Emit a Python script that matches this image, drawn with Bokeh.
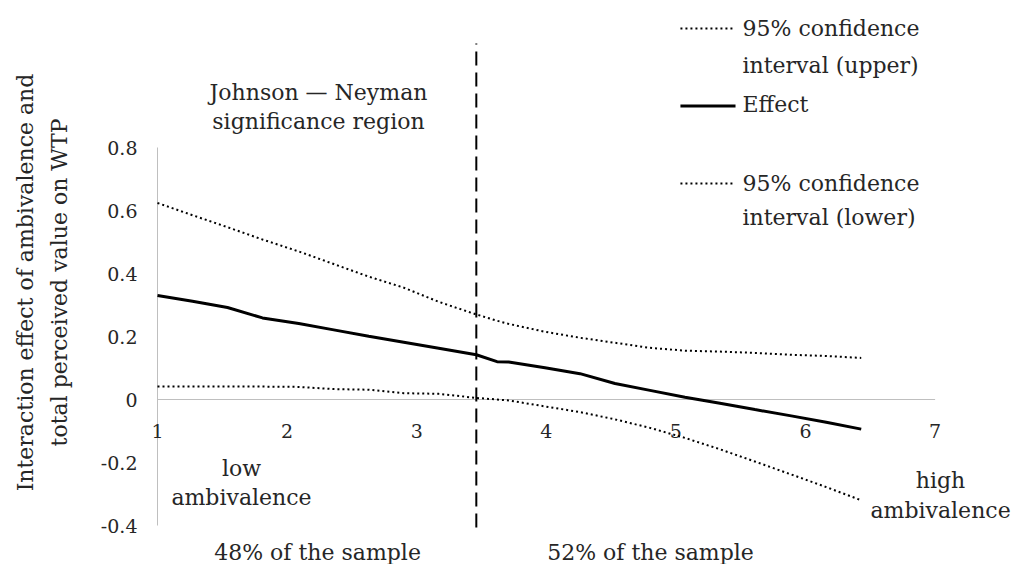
from bokeh.plotting import figure
from bokeh.models import Range1d, LinearAxis, FixedTicker
from bokeh.core.properties import value
from bokeh.embed import file_html
from bokeh.resources import INLINE

# ---------------- data ----------------
moderator = [1.00, 1.27, 1.54, 1.81, 2.09, 2.36, 2.63, 2.90, 3.17, 3.46, 3.62, 3.71,
             3.99, 4.26, 4.53, 4.80, 5.07, 5.34, 5.61, 5.89, 6.16, 6.43]
effect = [0.330, 0.312, 0.292, 0.259, 0.241, 0.221, 0.201, 0.182, 0.163, 0.142, 0.120, 0.119,
          0.101, 0.082, 0.051, 0.029, 0.007, -0.012, -0.032, -0.052, -0.072, -0.094]
ci_upper = [0.624, 0.585, 0.547, 0.508, 0.470, 0.430, 0.390, 0.355, 0.310, 0.270, 0.250, 0.240,
            0.215, 0.196, 0.180, 0.164, 0.155, 0.152, 0.148, 0.142, 0.138, 0.132]
ci_lower = [0.041, 0.041, 0.041, 0.041, 0.040, 0.033, 0.031, 0.020, 0.018, 0.005, 0.000, -0.003,
            -0.022, -0.040, -0.063, -0.090, -0.122, -0.158, -0.197, -0.238, -0.278, -0.320]
jn_point = 3.46

x_ticks = [1, 2, 3, 4, 5, 6, 7]
x_tick_labels = ["1", "2", "3", "4", "5", "6", "7"]
y_ticks = [-0.4, -0.2, 0, 0.2, 0.4, 0.6, 0.8]
y_tick_labels = ["-0.4", "-0.2", "0", "0.2", "0.4", "0.6", "0.8"]

series_names = ["95% confidence\ninterval (upper)", "Effect", "95% confidence\ninterval (lower)"]
y_title = "Interaction effect of ambivalence and\ntotal perceived value on WTP"
region_title = "Johnson \u2014 Neyman\nsignificance region"
low_note = "low\nambivalence"
high_note = "high\nambivalence"
share_notes = ["48% of the sample", "52% of the sample"]

# ---------------- style ----------------
FONT = value("DejaVu Serif")
TXT = "#262626"
AXIS_GRAY = "#bfbfbf"
PX_X = 129.6     # pixels per x unit
PX_Y = 315.0     # pixels per y unit
W, H = 1025, 564
AXIS_PX = 157    # where x = 1 sits
LEFT = 148       # frame starts a little left of the y axis
ZERO_FROM_TOP = 399

x_start = 1 - (AXIS_PX - LEFT) / PX_X
p = figure(width=W, height=H,
           x_range=Range1d(x_start, x_start + (W - LEFT) / PX_X),
           y_range=Range1d(-(H - ZERO_FROM_TOP) / PX_Y, ZERO_FROM_TOP / PX_Y),
           x_axis_type=None, y_axis_type=None,
           output_backend="svg", toolbar_location=None,
           min_border_left=LEFT, min_border_right=0, min_border_top=0, min_border_bottom=0)
p.outline_line_color = None
p.background_fill_color = "white"
p.border_fill_color = "white"

yaxis = LinearAxis(ticker=FixedTicker(ticks=y_ticks, minor_ticks=[]),
                   major_label_overrides={t: l for t, l in zip(y_ticks, y_tick_labels)},
                   axis_label=y_title)
yaxis.axis_line_color = None          # the axis line itself is drawn at x = 1 below
yaxis.major_tick_line_color = None
yaxis.minor_tick_line_color = None
yaxis.major_tick_out = 0
yaxis.major_tick_in = 0
yaxis.major_label_standoff = 11
yaxis.major_label_text_font = "DejaVu Serif"
yaxis.major_label_text_font_size = "19px"
yaxis.major_label_text_color = TXT
yaxis.axis_label_text_font = "DejaVu Serif"
yaxis.axis_label_text_font_size = "22px"
yaxis.axis_label_text_font_style = "normal"
yaxis.axis_label_text_color = TXT
yaxis.axis_label_text_line_height = 1.37
yaxis.axis_label_standoff = 26
p.add_layout(yaxis, "left")

# axis lines: vertical at x = 1, horizontal at y = 0
p.line([x_ticks[0], x_ticks[0]], [y_ticks[0], y_ticks[-1]], line_color=AXIS_GRAY, line_width=1)
p.line([x_ticks[0], x_ticks[-1]], [0, 0], line_color=AXIS_GRAY, line_width=1)
p.text(x=x_ticks, y=[0] * len(x_ticks), text=x_tick_labels, y_offset=31,
       text_align="center", text_baseline="middle", text_font=FONT,
       text_font_size=value("19px"), text_color=TXT)

# Johnson-Neyman boundary
p.segment(x0=[jn_point], x1=[jn_point], y0=[-0.406], y1=[1.130],
          line_color="black", line_width=2, line_dash="14 7")

# series
DOT = "2 3"
p.line(moderator, ci_upper, line_color="black", line_width=2, line_dash=DOT)
p.line(moderator, effect, line_color="black", line_width=3)
p.line(moderator, ci_lower, line_color="black", line_width=2, line_dash=DOT)

# legend (manual, to match the original layout)
leg_x0, leg_x1, leg_tx = 5.035, 5.437, 5.514
p.segment(x0=[leg_x0], x1=[leg_x1], y0=[1.178], y1=[1.178], line_color="black", line_width=2, line_dash=DOT)
p.segment(x0=[leg_x0], x1=[5.460], y0=[0.932], y1=[0.932], line_color="black", line_width=3)
p.segment(x0=[leg_x0], x1=[leg_x1], y0=[0.686], y1=[0.686], line_color="black", line_width=2, line_dash=DOT)
p.text(x=[leg_tx], y=[1.119], text=[series_names[0]], text_align="left", text_baseline="middle",
       text_font=FONT, text_font_size=value("22px"), text_color=TXT, text_line_height=1.445)
p.text(x=[leg_tx], y=[0.936], text=[series_names[1]], text_align="left", text_baseline="middle",
       text_font=FONT, text_font_size=value("22px"), text_color=TXT)
p.text(x=[leg_tx], y=[0.632], text=[series_names[2]], text_align="left", text_baseline="middle",
       text_font=FONT, text_font_size=value("22px"), text_color=TXT, text_line_height=1.33)

# notes
def note(x, y, s, lh=1.13, align="center"):
    p.text(x=[x], y=[y], text=[s], text_align=align, text_baseline="middle",
           text_font=FONT, text_font_size=value("22px"), text_color=TXT, text_line_height=lh)

note(2.242, 0.9286, region_title, lh=1.13)
note(1.648, -0.265, low_note, lh=1.13)
note(7.042, -0.305, high_note, lh=1.17)
note(2.235, -0.4857, share_notes[0])
note(4.804, -0.4857, share_notes[1])

open("out.html", "w").write(file_html(p, INLINE))
